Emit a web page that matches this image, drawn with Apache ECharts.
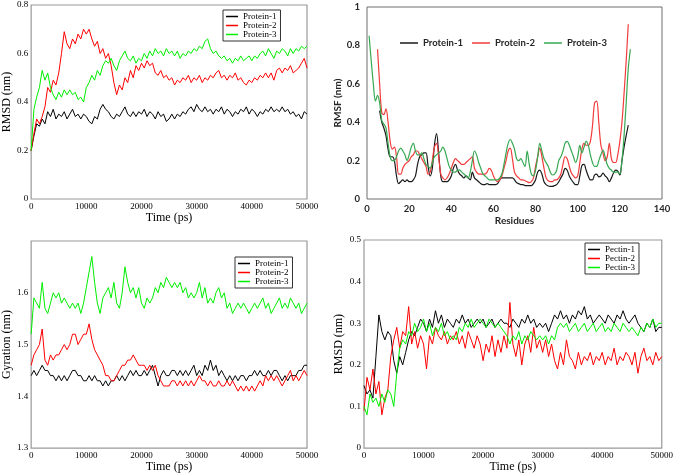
<!DOCTYPE html>
<html><head><meta charset="utf-8">
<script src="https://cdn.jsdelivr.net/npm/echarts@6/dist/echarts.min.js"></script>
<style>html,body{margin:0;padding:0;background:#fff}#c{width:676px;height:474px}</style>
</head><body><div id="c"></div>
<script>
// ---- sample times (ps), one sample every 500 ps ----
const timeStepPs = 500;

// ---- Panel A: protein RMSD (nm) ----
const rmsdProtein1 = [
0.20,0.26,0.31,0.30,0.33,0.31,0.36,0.34,0.37,0.33,
0.35,0.34,0.36,0.33,0.35,0.37,0.34,0.35,0.33,0.35,
0.34,0.32,0.31,0.34,0.33,0.37,0.39,0.37,0.36,0.34,
0.33,0.35,0.34,0.36,0.38,0.35,0.34,0.36,0.34,0.36,
0.35,0.37,0.34,0.36,0.35,0.33,0.36,0.34,0.35,0.32,
0.33,0.35,0.33,0.35,0.34,0.36,0.35,0.37,0.38,0.36,
0.39,0.37,0.36,0.38,0.36,0.37,0.35,0.37,0.36,0.38,
0.35,0.37,0.36,0.34,0.36,0.35,0.37,0.36,0.38,0.35,
0.37,0.36,0.34,0.36,0.35,0.37,0.36,0.38,0.36,0.37,
0.36,0.38,0.36,0.37,0.35,0.36,0.34,0.35,0.33,0.36,0.35];
const rmsdProtein2 = [
0.20,0.27,0.33,0.31,0.34,0.38,0.46,0.44,0.49,0.47,
0.52,0.60,0.69,0.64,0.62,0.66,0.64,0.68,0.66,0.70,
0.68,0.70,0.66,0.63,0.65,0.60,0.62,0.58,0.60,0.55,
0.48,0.43,0.47,0.45,0.50,0.48,0.53,0.50,0.55,0.53,
0.56,0.54,0.57,0.55,0.56,0.52,0.51,0.53,0.50,0.51,
0.49,0.50,0.47,0.49,0.48,0.50,0.49,0.51,0.48,0.50,
0.49,0.51,0.48,0.50,0.49,0.51,0.50,0.52,0.53,0.50,
0.51,0.49,0.51,0.50,0.52,0.49,0.50,0.48,0.47,0.49,
0.48,0.50,0.49,0.51,0.50,0.52,0.50,0.52,0.49,0.53,
0.54,0.52,0.54,0.53,0.55,0.52,0.53,0.54,0.56,0.58,0.54];
const rmsdProtein3 = [
0.20,0.37,0.42,0.46,0.53,0.49,0.52,0.46,0.43,0.41,
0.44,0.42,0.45,0.43,0.45,0.43,0.44,0.41,0.42,0.40,
0.46,0.48,0.51,0.49,0.53,0.51,0.55,0.57,0.56,0.58,
0.55,0.53,0.57,0.59,0.61,0.58,0.57,0.59,0.56,0.58,
0.57,0.60,0.58,0.61,0.59,0.62,0.60,0.61,0.59,0.62,
0.60,0.61,0.59,0.61,0.58,0.60,0.59,0.61,0.60,0.62,
0.61,0.63,0.62,0.65,0.66,0.62,0.60,0.61,0.59,0.58,
0.59,0.57,0.58,0.56,0.58,0.57,0.59,0.57,0.58,0.59,
0.57,0.59,0.58,0.60,0.61,0.59,0.62,0.60,0.58,0.61,
0.60,0.62,0.61,0.59,0.62,0.60,0.62,0.61,0.63,0.62,0.63];

// ---- Panel B: RMSF (nm) per residue ----
const rmsfStart1 = 6;
const rmsfProtein1 = [
0.46,0.40,0.37,0.33,0.26,0.22,0.22,0.20,0.12,0.08,
0.09,0.10,0.09,0.10,0.09,0.09,0.10,0.12,0.18,0.22,
0.23,0.24,0.24,0.17,0.12,0.16,0.28,0.34,0.24,0.12,
0.09,0.09,0.09,0.10,0.12,0.16,0.18,0.15,0.13,0.12,
0.11,0.12,0.11,0.10,0.14,0.11,0.10,0.09,0.08,0.075,
0.075,0.08,0.075,0.075,0.075,0.075,0.08,0.10,0.11,0.11,
0.11,0.11,0.11,0.11,0.10,0.085,0.08,0.075,0.075,0.07,
0.07,0.07,0.07,0.08,0.10,0.14,0.15,0.13,0.09,0.075,
0.068,0.066,0.066,0.07,0.075,0.09,0.11,0.13,0.16,0.15,
0.12,0.10,0.085,0.075,0.075,0.12,0.175,0.18,0.15,0.12,
0.10,0.10,0.125,0.13,0.115,0.12,0.135,0.12,0.11,0.09,
0.11,0.135,0.15,0.145,0.125,0.20,0.27,0.33,0.385];
const rmsfStart2 = 5;
const rmsfProtein2 = [
0.78,0.60,0.45,0.44,0.47,0.40,0.30,0.26,0.27,0.22,
0.13,0.13,0.16,0.18,0.19,0.20,0.22,0.23,0.25,0.25,
0.23,0.21,0.19,0.17,0.13,0.14,0.20,0.27,0.29,0.22,
0.13,0.11,0.10,0.11,0.13,0.16,0.19,0.21,0.20,0.19,
0.18,0.18,0.19,0.20,0.21,0.22,0.16,0.14,0.13,0.13,
0.13,0.13,0.14,0.16,0.15,0.12,0.10,0.09,0.10,0.12,
0.16,0.20,0.25,0.265,0.21,0.14,0.12,0.11,0.10,0.10,
0.095,0.09,0.085,0.09,0.11,0.17,0.22,0.265,0.22,0.16,
0.11,0.095,0.09,0.09,0.10,0.10,0.11,0.13,0.18,0.22,
0.21,0.17,0.135,0.12,0.11,0.12,0.19,0.26,0.29,0.28,
0.28,0.30,0.38,0.50,0.51,0.40,0.28,0.24,0.20,0.22,
0.29,0.21,0.19,0.19,0.23,0.30,0.40,0.55,0.72,0.91];
const rmsfStart3 = 1;
const rmsfProtein3 = [
0.85,0.72,0.60,0.51,0.54,0.50,0.41,0.39,0.37,0.29,
0.22,0.20,0.20,0.22,0.25,0.265,0.25,0.23,0.20,0.23,
0.27,0.29,0.25,0.23,0.23,0.24,0.21,0.18,0.17,0.16,
0.19,0.22,0.23,0.24,0.25,0.27,0.25,0.21,0.17,0.15,
0.14,0.14,0.15,0.15,0.14,0.13,0.12,0.11,0.14,0.20,
0.25,0.23,0.19,0.16,0.13,0.12,0.11,0.10,0.10,0.10,
0.10,0.10,0.11,0.13,0.18,0.24,0.29,0.31,0.29,0.26,
0.21,0.20,0.21,0.19,0.17,0.25,0.18,0.13,0.12,0.15,
0.22,0.29,0.25,0.21,0.19,0.17,0.14,0.125,0.13,0.15,
0.20,0.22,0.25,0.29,0.30,0.28,0.25,0.22,0.19,0.22,
0.28,0.24,0.27,0.30,0.28,0.23,0.19,0.17,0.17,0.20,
0.23,0.255,0.22,0.18,0.16,0.15,0.14,0.14,0.14,0.13,
0.20,0.33,0.50,0.68,0.78];

// ---- Panel C: radius of gyration (nm) ----
const gyrProtein1 = [
1.44,1.45,1.44,1.45,1.46,1.45,1.45,1.44,1.44,1.43,
1.44,1.43,1.44,1.43,1.44,1.45,1.45,1.44,1.44,1.43,
1.43,1.44,1.43,1.44,1.43,1.43,1.42,1.43,1.42,1.43,
1.43,1.44,1.43,1.44,1.43,1.44,1.45,1.44,1.45,1.44,
1.44,1.45,1.44,1.45,1.46,1.44,1.42,1.44,1.45,1.44,
1.44,1.45,1.45,1.44,1.45,1.44,1.45,1.44,1.45,1.46,
1.44,1.45,1.44,1.46,1.45,1.47,1.45,1.46,1.44,1.45,
1.44,1.43,1.44,1.43,1.44,1.43,1.44,1.44,1.43,1.44,
1.44,1.45,1.44,1.45,1.44,1.44,1.45,1.44,1.45,1.45,
1.44,1.43,1.44,1.43,1.44,1.44,1.44,1.45,1.45,1.46,1.46];
const gyrProtein2 = [
1.46,1.48,1.49,1.50,1.53,1.47,1.46,1.48,1.47,1.48,
1.48,1.49,1.50,1.49,1.50,1.52,1.52,1.50,1.51,1.52,
1.52,1.54,1.51,1.49,1.48,1.47,1.46,1.44,1.44,1.43,
1.43,1.44,1.45,1.46,1.46,1.47,1.47,1.48,1.47,1.46,
1.46,1.46,1.45,1.46,1.45,1.46,1.44,1.43,1.42,1.42,
1.42,1.43,1.43,1.42,1.43,1.42,1.43,1.42,1.43,1.42,
1.43,1.44,1.43,1.43,1.42,1.43,1.42,1.42,1.43,1.42,
1.42,1.43,1.42,1.43,1.42,1.41,1.42,1.41,1.42,1.41,
1.42,1.41,1.42,1.43,1.42,1.44,1.43,1.44,1.43,1.44,
1.43,1.42,1.43,1.44,1.45,1.43,1.44,1.43,1.44,1.45,1.44];
const gyrProtein3 = [
1.52,1.59,1.58,1.57,1.62,1.57,1.56,1.58,1.60,1.59,
1.60,1.58,1.59,1.58,1.57,1.58,1.57,1.58,1.56,1.58,
1.61,1.64,1.67,1.62,1.58,1.56,1.59,1.60,1.61,1.59,
1.62,1.58,1.57,1.60,1.65,1.62,1.60,1.61,1.59,1.61,
1.58,1.57,1.59,1.58,1.59,1.61,1.60,1.62,1.61,1.63,
1.62,1.61,1.62,1.61,1.62,1.60,1.61,1.59,1.60,1.59,
1.60,1.62,1.59,1.61,1.58,1.59,1.58,1.60,1.61,1.59,
1.60,1.57,1.58,1.56,1.57,1.58,1.57,1.58,1.57,1.56,
1.57,1.58,1.57,1.58,1.59,1.57,1.58,1.56,1.57,1.58,
1.59,1.57,1.58,1.57,1.59,1.58,1.57,1.58,1.56,1.57,1.58];

// ---- Panel D: pectin RMSD (nm) ----
const rmsdPectin1 = [
0.15,0.13,0.14,0.12,0.22,0.32,0.28,0.26,0.28,0.27,
0.21,0.18,0.22,0.20,0.23,0.26,0.28,0.27,0.29,0.31,
0.30,0.28,0.31,0.29,0.33,0.30,0.32,0.29,0.31,0.30,
0.29,0.31,0.30,0.32,0.30,0.31,0.29,0.30,0.31,0.30,
0.31,0.29,0.30,0.31,0.29,0.30,0.31,0.30,0.30,0.29,
0.31,0.30,0.29,0.31,0.30,0.32,0.30,0.31,0.29,0.30,
0.29,0.30,0.28,0.30,0.32,0.31,0.33,0.31,0.32,0.30,
0.32,0.31,0.33,0.32,0.34,0.31,0.32,0.30,0.31,0.32,
0.31,0.30,0.32,0.31,0.30,0.32,0.31,0.33,0.31,0.30,
0.31,0.32,0.30,0.29,0.28,0.30,0.29,0.31,0.28,0.29,0.29];
const rmsdPectin2 = [
0.09,0.17,0.14,0.19,0.13,0.16,0.08,0.12,0.14,0.22,
0.26,0.29,0.24,0.28,0.27,0.34,0.25,0.28,0.24,0.27,
0.25,0.19,0.27,0.25,0.29,0.27,0.26,0.28,0.25,0.27,
0.26,0.28,0.25,0.27,0.24,0.28,0.26,0.24,0.27,0.25,
0.21,0.25,0.23,0.27,0.22,0.26,0.23,0.27,0.24,0.35,
0.25,0.22,0.26,0.20,0.25,0.27,0.23,0.29,0.24,0.26,
0.23,0.26,0.22,0.25,0.21,0.19,0.23,0.20,0.26,0.22,
0.21,0.19,0.23,0.20,0.22,0.21,0.23,0.20,0.22,0.21,
0.23,0.20,0.22,0.21,0.24,0.20,0.22,0.21,0.23,0.22,
0.20,0.23,0.18,0.22,0.24,0.21,0.22,0.20,0.23,0.21,0.22];
const rmsdPectin3 = [
0.10,0.08,0.13,0.11,0.12,0.10,0.13,0.11,0.14,0.13,
0.10,0.18,0.24,0.26,0.25,0.28,0.27,0.30,0.28,0.29,
0.31,0.28,0.30,0.27,0.29,0.28,0.30,0.27,0.28,0.26,
0.27,0.26,0.29,0.28,0.30,0.29,0.31,0.29,0.30,0.31,
0.30,0.29,0.31,0.30,0.29,0.30,0.29,0.28,0.27,0.25,
0.27,0.26,0.28,0.25,0.27,0.26,0.28,0.27,0.26,0.27,
0.26,0.27,0.25,0.27,0.26,0.29,0.30,0.29,0.30,0.28,
0.29,0.30,0.28,0.29,0.30,0.28,0.29,0.30,0.28,0.29,
0.30,0.28,0.29,0.28,0.30,0.29,0.28,0.30,0.29,0.28,
0.29,0.28,0.27,0.29,0.28,0.30,0.29,0.31,0.29,0.30,0.30];

// ---- helpers ----
const toTime = arr => arr.map((v, i) => [i * timeStepPs, v]);
const toRes = (start, arr) => arr.map((v, i) => [start + i, v]);

const SERIF = '"Liberation Serif", "DejaVu Serif", serif';
const SANS = 'Lato, "Open Sans", "Liberation Sans", sans-serif';
const C_BLACK = '#000000', C_RED = '#ff0000', C_GREEN = '#00ee00';
const X_BLACK = '#1a1a1a', X_RED = '#f23b3b', X_GREEN = '#36a852';
const X_TEXT = '#262626';

function serifX(gi, nameGap) {
  return {
    type: 'value', gridIndex: gi, min: 0, max: 50000, interval: 10000,
    name: 'Time (ps)', nameLocation: 'middle', nameGap: nameGap,
    nameTextStyle: { fontFamily: SERIF, fontSize: 12, color: '#000' },
    axisLine: { show: false }, axisTick: { show: false }, splitLine: { show: false },
    axisLabel: { fontFamily: SERIF, fontSize: 9, color: '#000', margin: 3,
      formatter: v => String(v) }
  };
}
function serifY(gi, name, min, max, interval, nameGap, showMax) {
  return {
    type: 'value', gridIndex: gi, min: min, max: max, interval: interval,
    name: name, nameLocation: 'middle', nameGap: nameGap,
    nameTextStyle: { fontFamily: SERIF, fontSize: 12, color: '#000' },
    axisLine: { show: false }, axisTick: { show: false }, splitLine: { show: false },
    axisLabel: { fontFamily: SERIF, fontSize: 9, color: '#000', margin: 3,
      showMaxLabel: showMax,
      formatter: v => (Math.abs(v) < 1e-9 ? '0' : String(+v.toFixed(1))) }
  };
}
function line(name, data, xi, color, smooth, width) {
  return { type: 'line', name: name, xAxisIndex: xi, yAxisIndex: xi, data: data,
    showSymbol: false, smooth: smooth || false, animation: false,
    lineStyle: { color: color, width: width || 1 }, itemStyle: { color: color } };
}
function boxLegend(left, top, names, colors, lh) {
  return {
    left: left, top: top, orient: 'vertical', icon: 'rect',
    itemWidth: 12, itemHeight: 1.5, itemGap: 0,
    padding: [2, 4, 2, 3], borderColor: '#333', borderWidth: 1,
    textStyle: { fontFamily: SERIF, fontSize: 9, color: '#000', lineHeight: lh },
    data: names.map((n, i) => ({ name: n, itemStyle: { color: colors[i] } }))
  };
}

const chart = echarts.init(document.getElementById('c'), null, { renderer: 'canvas' });
chart.setOption({
  backgroundColor: '#fff',
  animation: false,
  grid: [
    { left: 27, top: 5, width: 280, height: 194, show: true, borderColor: '#999', borderWidth: 1.2, backgroundColor: 'transparent' },
    { left: 367, top: 7, width: 295, height: 192, show: true, borderColor: '#6e6e6e', borderWidth: 1, backgroundColor: 'transparent' },
    { left: 29, top: 241, width: 278, height: 208, show: true, borderColor: '#999', borderWidth: 1.2, backgroundColor: 'transparent' },
    { left: 364, top: 240, width: 299, height: 209, show: true, borderColor: '#999', borderWidth: 1.2, backgroundColor: 'transparent' }
  ],
  xAxis: [
    serifX(0, 9),
    { type: 'value', gridIndex: 1, min: 0, max: 140, interval: 20,
      name: 'Residues', nameLocation: 'middle', nameGap: 17,
      nameTextStyle: { fontFamily: SANS, fontWeight: 'bold', fontSize: 10, color: X_TEXT },
      axisLine: { show: false }, axisTick: { show: false }, splitLine: { show: false },
      axisLabel: { fontFamily: SANS, fontWeight: 'bold', fontSize: 9.5, color: X_TEXT, margin: 5 } },
    serifX(2, 10),
    serifX(3, 12)
  ],
  yAxis: [
    serifY(0, 'RMSD (nm)', 0, 0.8, 0.2, 15, true),
    { type: 'value', gridIndex: 1, min: 0, max: 1, interval: 0.2,
      name: 'RMSF (nm)', nameLocation: 'middle', nameGap: 16,
      nameTextStyle: { fontFamily: SANS, fontWeight: 'bold', fontSize: 10, color: X_TEXT },
      axisLine: { show: false }, axisTick: { show: false }, splitLine: { show: false },
      axisLabel: { fontFamily: SANS, fontWeight: 'bold', fontSize: 9.5, color: X_TEXT, margin: 7,
        formatter: v => (Math.abs(v) < 1e-9 ? '0' : String(+v.toFixed(1))) } },
    serifY(2, 'Gyration (nm)', 1.3, 1.7, 0.1, 17, false),
    serifY(3, 'RMSD (nm)', 0, 0.5, 0.1, 19, true)
  ],
  legend: [
    boxLegend(223, 10, ['Protein-1', 'Protein-2', 'Protein-3'], [C_BLACK, C_RED, C_GREEN], 8.5),
    { left: 400, top: 38, orient: 'horizontal', icon: 'rect', itemWidth: 18, itemHeight: 1.5, itemGap: 9,
      padding: 0,
      textStyle: { fontFamily: SANS, fontWeight: 'bold', fontSize: 9.5, color: X_TEXT },
      data: [ { name: 'Protein-1', itemStyle: { color: X_BLACK } },
              { name: 'Protein-2', itemStyle: { color: X_RED } },
              { name: 'Protein-3', itemStyle: { color: X_GREEN } } ] },
    boxLegend(235, 257, ['Protein-1', 'Protein-2', 'Protein-3'], [C_BLACK, C_RED, C_GREEN], 8.5),
    boxLegend(585, 243, ['Pectin-1', 'Pectin-2', 'Pectin-3'], [C_BLACK, C_RED, C_GREEN], 9)
  ],
  series: [
    line('Protein-1', toTime(rmsdProtein1), 0, C_BLACK),
    line('Protein-2', toTime(rmsdProtein2), 0, C_RED),
    line('Protein-3', toTime(rmsdProtein3), 0, C_GREEN),
    line('Protein-1', toRes(rmsfStart1, rmsfProtein1), 1, X_BLACK, 0.35, 1.2),
    line('Protein-2', toRes(rmsfStart2, rmsfProtein2), 1, X_RED, 0.35, 1.2),
    line('Protein-3', toRes(rmsfStart3, rmsfProtein3), 1, X_GREEN, 0.35, 1.2),
    line('Protein-1', toTime(gyrProtein1), 2, C_BLACK),
    line('Protein-2', toTime(gyrProtein2), 2, C_RED),
    line('Protein-3', toTime(gyrProtein3), 2, C_GREEN),
    line('Pectin-1', toTime(rmsdPectin1), 3, C_BLACK),
    line('Pectin-2', toTime(rmsdPectin2), 3, C_RED),
    line('Pectin-3', toTime(rmsdPectin3), 3, C_GREEN)
  ]
});
</script>
</body></html>
